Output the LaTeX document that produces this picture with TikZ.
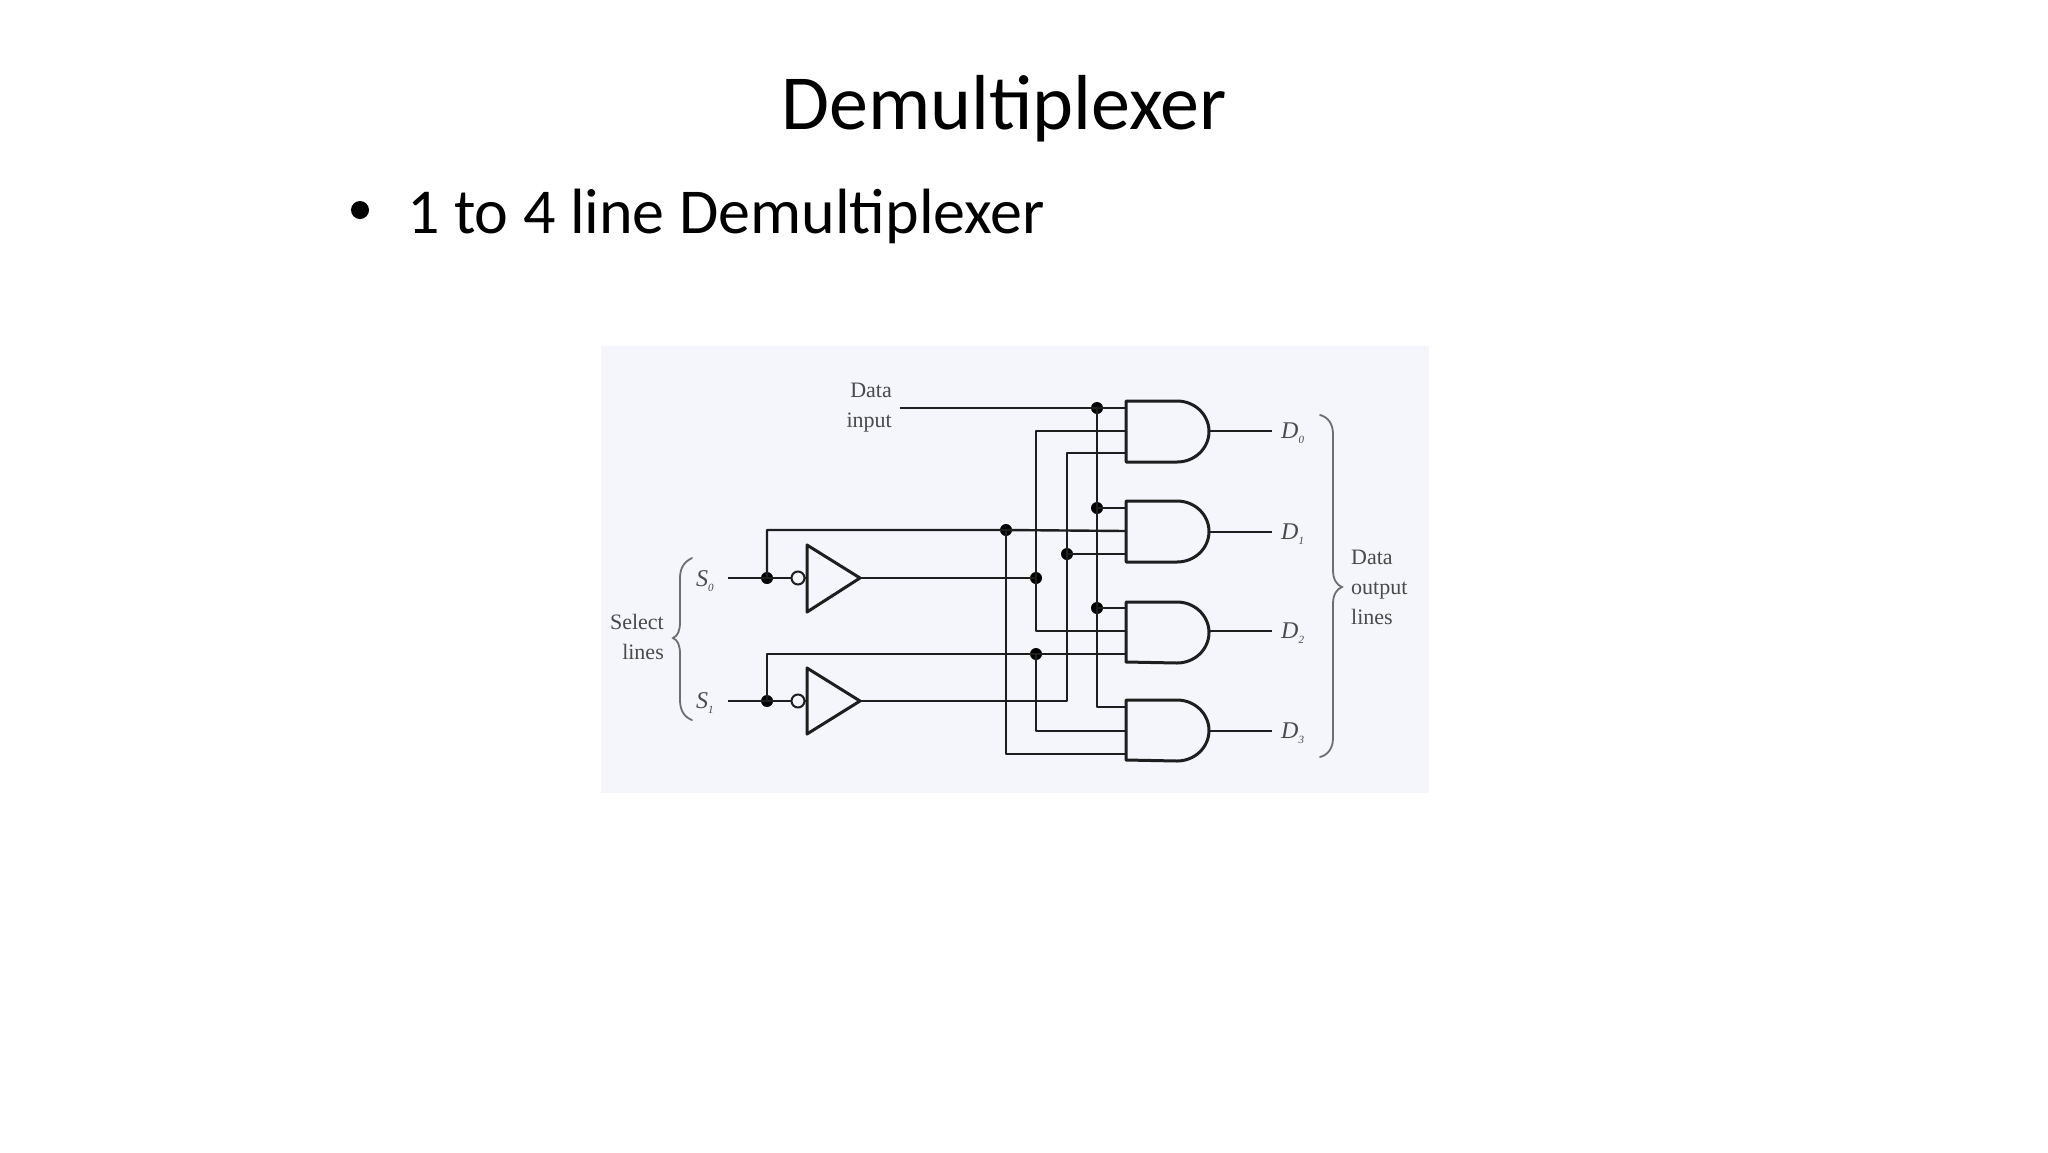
\documentclass[tikz,border=0pt]{standalone}
\usepackage{fontspec}
\setmainfont{Liberation Serif}
\newfontfamily\slidefont{Carlito}
\definecolor{panelbg}{HTML}{F4F6FB}
\definecolor{wirecol}{HTML}{1E1E1E}
\definecolor{labelcol}{HTML}{4A4A4A}
\definecolor{bracecol}{HTML}{6E6E6E}
\newcommand{\gatepath}[2]{% top y, mid y
  \draw[gateline] (1126,#1) -- (1177,#1) arc[start angle=90,end angle=-90,x radius=32pt,y radius=30.5pt] -- (1126,{2*#2-#1}) -- cycle;}
\newcommand{\labsub}[2]{{\itshape #1}\raisebox{-5pt}{\fontsize{11}{11}\selectfont\itshape #2}}
\tikzset{
  wire/.style={draw=wirecol,line width=2.4pt,line join=round},
  gateline/.style={draw=wirecol,line width=3pt,line join=round},
  jdot/.style={circle,fill=black,inner sep=0pt,minimum size=12pt},
  bubble/.style={circle,draw=wirecol,line width=2pt,fill=panelbg,inner sep=0pt,minimum size=13pt},
  lab/.style={text=labelcol,font=\fontsize{22}{30}\selectfont,inner sep=0pt,align=left},
  rlab/.style={lab,align=right},
  sublab/.style={text=labelcol,font=\fontsize{24}{24}\selectfont,inner sep=0pt,anchor=west},
  bracepath/.style={draw=bracecol,line width=1.8pt,line cap=round},
  titletext/.style={font=\slidefont\fontsize{78}{78}\selectfont,text=black,inner sep=0pt,anchor=base west},
  bodytext/.style={font=\slidefont\fontsize{64}{64}\selectfont,text=black,inner sep=0pt,anchor=base west},
}
\begin{document}
\begin{tikzpicture}[x=1pt,y=-1pt]
\useasboundingbox (0,0) rectangle (2048,1152);
\fill[white] (0,0) rectangle (2048,1152);
\fill[panelbg] (601,346) rectangle (1429,793);

\node[titletext] (title) at (781,129) {Demultiplexer};
\node[circle,fill=black,inner sep=0pt,minimum size=18pt] (bullet) at (360,210) {};
\node[bodytext] (body) at (407,233) {1 to 4 line Demultiplexer};

% labels
\node[rlab,anchor=east] (datain) at (892,408) {Data\\input};
\node[rlab,anchor=east] (sellab) at (664,637) {Select\\lines};
\node[lab,anchor=west] (outlab) at (1351,587) {Data\\output\\lines};
\node[sublab] (s0) at (696,581) {\labsub{S}{0}};
\node[sublab] (s1) at (696,703) {\labsub{S}{1}};
\node[sublab] (d0) at (1281,433) {\labsub{D}{0}};
\node[sublab] (d1) at (1281,534) {\labsub{D}{1}};
\node[sublab] (d2) at (1281,633) {\labsub{D}{2}};
\node[sublab] (d3) at (1281,733) {\labsub{D}{3}};

% named points
\coordinate (dstart) at (900,408);
\coordinate (s0start) at (728,578);
\coordinate (s1start) at (728,701);
\coordinate (s0top) at (767,530);
\coordinate (s1top) at (767,654);
\coordinate (i0a) at (1126,408); \coordinate (i0b) at (1126,431); \coordinate (i0c) at (1126,453);
\coordinate (i1a) at (1126,508); \coordinate (i1b) at (1126,531); \coordinate (i1c) at (1126,554);
\coordinate (i2a) at (1126,608); \coordinate (i2b) at (1126,631); \coordinate (i2c) at (1126,654);
\coordinate (i3a) at (1126,707); \coordinate (i3b) at (1126,731); \coordinate (i3c) at (1126,754);
\coordinate (o0) at (1209,431); \coordinate (o1) at (1209,532);
\coordinate (o2) at (1209,631); \coordinate (o3) at (1209,731);
\coordinate (e0) at (1272,431); \coordinate (e1) at (1272,532);
\coordinate (e2) at (1272,631); \coordinate (e3) at (1272,731);
\coordinate (inv0in) at (807,578); \coordinate (inv0out) at (860,578);
\coordinate (inv1in) at (807,701); \coordinate (inv1out) at (860,701);

% junctions
\node[jdot] (js0) at (767,578) {};
\node[jdot] (js1) at (767,701) {};
\node[jdot] (jt0) at (1006,530) {};
\node[jdot] (jn0) at (1036,578) {};
\node[jdot] (jt1) at (1036,654) {};
\node[jdot] (jn1) at (1067,554) {};
\node[jdot] (jd0) at (1097,408) {};
\node[jdot] (jd1) at (1097,508) {};
\node[jdot] (jd2) at (1097,608) {};
\coordinate (n1r) at (1067,701);

% wires
\draw[wire] (dstart) -- (jd0.center) -- (i0a);
\draw[wire] (jd0.center) -- (jd1.center) -- (jd2.center) |- (i3a);
\draw[wire] (jd1.center) -- (i1a);
\draw[wire] (jd2.center) -- (i2a);
\draw[wire] (s0start) -- (js0.center) -- (inv0in);
\draw[wire] (s1start) -- (js1.center) -- (inv1in);
\draw[wire] (js0.center) |- (jt0.center) -- (i1b);
\draw[wire] (js1.center) |- (jt1.center) -- (i2c);
\draw[wire] (jt0.center) |- (i3c);
\draw[wire] (jt1.center) |- (i3b);
\draw[wire] (inv0out) -- (jn0.center);
\draw[wire] (inv1out) -- (n1r) -- (jn1.center);
\draw[wire] (i0b) -| (jn0.center) |- (i2b);
\draw[wire] (i0c) -| (jn1.center) -- (n1r);
\draw[wire] (jn1.center) -- (i1c);
\draw[wire] (o0) -- (e0);
\draw[wire] (o1) -- (e1);
\draw[wire] (o2) -- (e2);
\draw[wire] (o3) -- (e3);

% inverters
\draw[gateline,fill=panelbg] (807,545) -- (inv0out) -- (807,612) -- cycle;
\draw[gateline,fill=panelbg] (807,668) -- (inv1out) -- (807,734) -- cycle;
\node[bubble] (b0) at (798,578) {};
\node[bubble] (b1) at (798,701) {};

% AND gates
\gatepath{401}{431.5}
\gatepath{501}{531.5}
\gatepath{602}{632}
\gatepath{700}{730}

% braces
\draw[bracepath] (692,558) .. controls (684,562) and (680,568) .. (680,578) -- (680,622) .. controls (680,630) and (678,636) .. (673,638) .. controls (678,640) and (680,646) .. (680,654) -- (680,700) .. controls (680,710) and (684,717) .. (692,720);
\draw[bracepath] (1320,415) .. controls (1328,417) and (1333,424) .. (1333,434) -- (1333,570) .. controls (1333,580) and (1337,585) .. (1342,587) .. controls (1337,589) and (1333,594) .. (1333,604) -- (1333,738) .. controls (1333,748) and (1328,755) .. (1320,757);
\end{tikzpicture}
\end{document}
